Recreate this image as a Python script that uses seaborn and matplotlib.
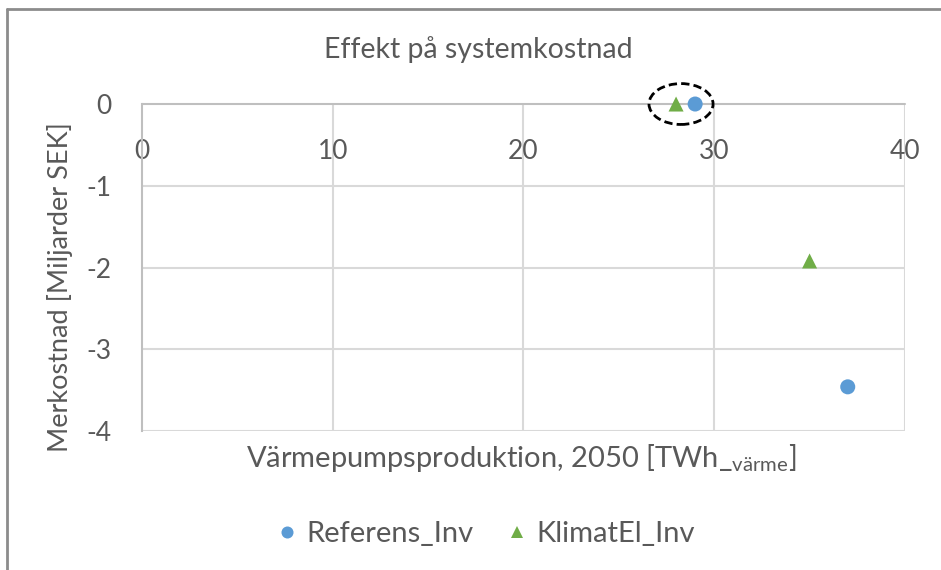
import matplotlib
matplotlib.use("Agg")
import matplotlib.pyplot as plt
from matplotlib.patches import Ellipse
from matplotlib.lines import Line2D
import seaborn as sns
import pandas as pd

# Scenario results: heat pump production 2050 vs. change in system cost
series_names = ["Referens_Inv", "KlimatEl_Inv"]
referens_x = [29, 37]
referens_y = [0.0, -3.46]
klimatel_x = [28, 35]
klimatel_y = [0.0, -1.92]

x_ticks = [0, 10, 20, 30, 40]
y_ticks = [0, -1, -2, -3, -4]

colors = {"Referens_Inv": "#5B9BD5", "KlimatEl_Inv": "#70AD47"}
markers = {"Referens_Inv": "o", "KlimatEl_Inv": "^"}

df = pd.DataFrame({
    "x": referens_x + klimatel_x,
    "y": referens_y + klimatel_y,
    "scenario": [series_names[0]] * len(referens_x) + [series_names[1]] * len(klimatel_x),
})

sns.set_theme(style="white")
plt.rcParams["font.family"] = ["Lato", "DejaVu Sans"]
plt.rcParams["mathtext.fontset"] = "custom"
plt.rcParams["mathtext.rm"] = "Lato"
plt.rcParams["axes.unicode_minus"] = False

text_color = "#595959"
grid_color = "#D9D9D9"
axis_color = "#BFBFBF"

fig = plt.figure(figsize=(9.41, 5.70), dpi=100)
ax = fig.add_axes([0.1509, 0.2439, 0.9617 - 0.1509, 0.8175 - 0.2439])

sns.scatterplot(data=df, x="x", y="y", hue="scenario", style="scenario",
                hue_order=series_names, style_order=series_names,
                palette=colors, markers=markers, s=117, linewidth=0,
                clip_on=False, zorder=5, ax=ax, legend=True)

ax.set_xlim(0, 40)
ax.set_ylim(-4, 0)
ax.set_xticks(x_ticks)
ax.set_yticks(y_ticks)

# gridlines
for v in x_ticks[1:]:
    ax.axvline(v, color=grid_color, lw=1.5, zorder=0)
for v in y_ticks[1:]:
    ax.axhline(v, color=grid_color, lw=1.5, zorder=0)

for side in ["top", "right", "bottom"]:
    ax.spines[side].set_visible(False)
ax.spines["left"].set_color(axis_color)
ax.spines["left"].set_linewidth(1.5)
ax.axhline(0, color=axis_color, lw=1.5, zorder=1, clip_on=False)

# x tick labels sit just below the zero line at the top of the plot
ax.xaxis.tick_top()
ax.tick_params(axis="x", length=0, pad=-25, labelsize=19, labelcolor=text_color,
               labeltop=True, labelbottom=False)
for lbl in ax.get_xticklabels():
    lbl.set_verticalalignment("top")
ax.tick_params(axis="y", length=0, pad=22, labelsize=19, labelcolor=text_color)

ax.set_xlabel(r"Värmepumpsproduktion, 2050 [TWh_$\mathregular{_{värme}}$]",
              fontsize=21, color=text_color)
ax.xaxis.set_label_position("bottom")
ax.xaxis.set_label_coords(0.497, -0.083)
ax.xaxis.label.set_verticalalignment("center")
ax.set_ylabel("Merkostnad [Miljarder SEK]", fontsize=19.5, color=text_color)
ax.yaxis.set_label_coords(-0.107, 0.44)
ax.yaxis.label.set_verticalalignment("center")

# highlight of the two points at zero cost
ax.add_patch(Ellipse((28.26, 0.0), 3.36, 0.50, fill=False, ls=(0, (3, 1.5)),
                     lw=2, ec="black", zorder=6, clip_on=False))

fig.text(0.508, 1 - 50 / 570, "Effekt på systemkostnad", ha="center", va="center",
         fontsize=20.5, color=text_color)

handles, labels = ax.get_legend_handles_labels()
ax.get_legend().remove()
fig.legend(handles, labels, loc="center", bbox_to_anchor=(0.514, 1 - 534 / 570),
           ncol=2, frameon=False, fontsize=21, labelcolor=text_color,
           markerscale=0.8, handletextpad=0.15, columnspacing=1.0, handlelength=1.0)

# chart area border (top and left edges)
fig.add_artist(Line2D([7 / 941, 1], [1 - 9 / 570, 1 - 9 / 570], color="#8C8C8C", lw=2))
fig.add_artist(Line2D([7 / 941, 7 / 941], [0, 1 - 9 / 570], color="#8C8C8C", lw=2))

fig.savefig("out.png", dpi=100, facecolor="white")
